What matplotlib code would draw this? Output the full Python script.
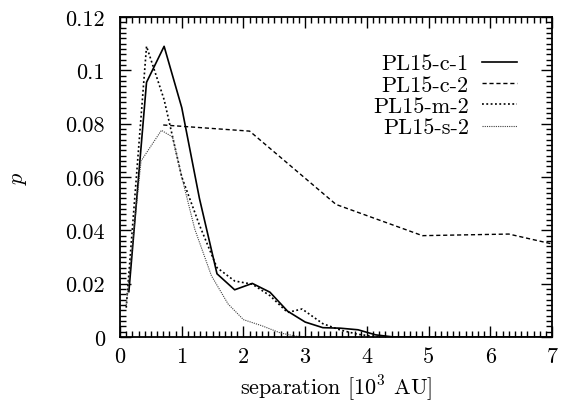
import numpy as np
import matplotlib
matplotlib.use("Agg")
import matplotlib.pyplot as plt
from matplotlib.ticker import MultipleLocator, FuncFormatter

plt.rcParams['font.family'] = ['cmr10', 'DejaVu Serif']
plt.rcParams['mathtext.fontset'] = 'cm'
plt.rcParams['axes.formatter.use_mathtext'] = True

# PL15-c-1 (bins of 2/7 in 10^3 AU)
c1_x = [0.143, 0.429, 0.714, 1.0, 1.286, 1.571, 1.857, 2.143, 2.429, 2.714,
        3.0, 3.286, 3.571, 3.857, 4.143, 4.429, 5.0, 6.0, 7.0]
c1_y = [0.017, 0.0955, 0.109, 0.086, 0.052, 0.0237, 0.0177, 0.0201, 0.0168, 0.0097,
        0.0056, 0.0035, 0.0033, 0.0027, 0.0008, 0.0, 0.0, 0.0, 0.0]

# PL15-c-2 (wide bins)
c2_x = [0.7, 2.1, 3.5, 4.9, 6.3, 7.7]
c2_y = [0.0795, 0.0772, 0.0497, 0.0380, 0.0386, 0.0312]

# PL15-m-2
m2_x = [0.10, 0.429, 0.714, 1.0, 1.286, 1.571, 1.857, 2.143, 2.429, 2.714,
        2.95, 3.286, 3.571, 3.857, 4.2]
m2_y = [0.011, 0.109, 0.089, 0.060, 0.042, 0.026, 0.021, 0.0198, 0.0155, 0.0092,
        0.0105, 0.0050, 0.0026, 0.0010, 0.0]

# PL15-s-2
s2_x = [0.10, 0.34, 0.67, 0.85, 1.0, 1.21, 1.48, 1.75, 2.0, 2.3, 2.6, 2.85, 3.1]
s2_y = [0.012, 0.066, 0.0775, 0.075, 0.060, 0.0405, 0.023, 0.0124, 0.0065,
        0.0042, 0.0015, 0.0003, 0.0]

fig = plt.figure(figsize=(5.61, 4.06), dpi=100)
ax = fig.add_axes([0.214, 0.1675, 0.77, 0.7882])

ax.plot(c1_x, c1_y, color='black', lw=1.2, label='PL15-c-1')
ax.plot(c2_x, c2_y, color='black', lw=1.0, dashes=(3, 2), label='PL15-c-2')
ax.plot(m2_x, m2_y, color='black', lw=1.2, dashes=(1.1, 1.5), label='PL15-m-2')
ax.plot(s2_x, s2_y, color='0.25', lw=0.8, dashes=(1, 1), label='PL15-s-2')

ax.set_xlim(0, 7)
ax.set_ylim(0, 0.12)
ax.xaxis.set_major_locator(MultipleLocator(1))
ax.xaxis.set_minor_locator(MultipleLocator(0.1))
ax.yaxis.set_major_locator(MultipleLocator(0.02))
ax.yaxis.set_minor_locator(MultipleLocator(0.002))
ax.yaxis.set_major_formatter(FuncFormatter(lambda v, p: '%g' % round(v, 3)))
ax.xaxis.set_major_formatter(FuncFormatter(lambda v, p: '%g' % v))
ax.tick_params(which='both', direction='in', top=True, right=True, labelsize=16)
ax.tick_params(which='major', length=8, width=1)
ax.tick_params(which='minor', length=4.5, width=1)
ax.tick_params(axis='x', which='major', pad=7)
ax.tick_params(axis='y', which='major', pad=11)
for s in ax.spines.values():
    s.set_linewidth(1.3)

ax.set_xlabel(r'separation [$10^3$ AU]', fontsize=16, labelpad=4)
ax.set_ylabel(r'$p$', fontsize=16, labelpad=26)

ax.legend(loc='upper right', bbox_to_anchor=(0.918, 0.885), frameon=False,
          markerfirst=False, fontsize=16, handlelength=1.55,
          handletextpad=0.6, labelspacing=0.08, borderpad=0, borderaxespad=0)

fig.savefig('out.png', dpi=100)
